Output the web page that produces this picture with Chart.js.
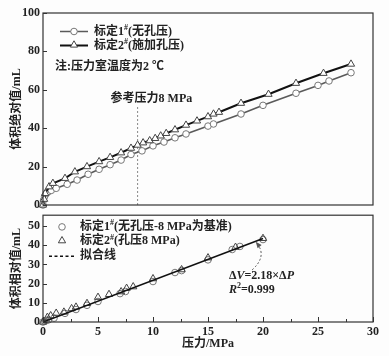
<!DOCTYPE html>
<html><head><meta charset="utf-8">
<script src="https://cdn.jsdelivr.net/npm/chart.js@4.4.0/dist/chart.umd.min.js"></script>
<style>
html,body{margin:0;padding:0;background:#fff;}
#wrap{position:relative;width:389px;height:356px;overflow:hidden;background:#fdfdfd;}
#cTop{position:absolute;left:0;top:0;}
#cBot{position:absolute;left:0;top:205px;}
</style></head><body>
<div id="wrap">
<canvas id="cTop" width="389" height="216"></canvas>
<canvas id="cBot" width="389" height="151"></canvas>
</div>
<script>
// ---------- data ----------
// top panel: absolute volume vs pressure
const p1 = [0, 0.05, 0.15, 0.3, 0.5, 0.75, 1.2, 2.2, 3.1, 4.1, 5.1, 6.1, 7.1, 8, 9, 10, 11, 12, 13, 15, 15.5, 18, 20, 23, 25, 26, 28];
const v1 = [0, 2.5, 4.5, 6.0, 7.0, 7.6, 8.7, 10.8, 13.0, 16.0, 18.6, 21.0, 23.4, 26.3, 28.2, 30.8, 32.8, 35.0, 37.0, 41.1, 42.2, 47.4, 51.9, 58.2, 62.3, 64.6, 68.9];
const p2 = [0, 0.1, 0.2, 0.55, 0.9, 2.0, 2.9, 4.0, 5.1, 6.1, 7.1, 8.0, 8.6, 9.1, 9.7, 10.2, 10.7, 11.2, 12, 13, 14, 15, 15.5, 16, 18, 20.5, 23, 25.5, 28];
const v2 = [0, 3, 6, 9.5, 11.3, 13.9, 17.3, 20, 22.6, 24.8, 27.2, 29.6, 31.2, 32.4, 33.5, 34.7, 36.0, 37.3, 39.2, 41.6, 43.8, 46.0, 47.4, 48.3, 53.0, 57.7, 63.4, 68.6, 73.4];
// bottom panel: relative volume vs pressure
const b1x = [0, 0.15, 0.3, 0.5, 1, 2, 3, 4, 5, 7, 7.5, 10, 12, 12.6, 15, 17.2, 17.9, 20];
const b1y = [0, 0.4, 0.8, 1.1, 2.0, 4.5, 6.5, 8.7, 10.7, 14.8, 15.9, 21.1, 25.8, 26.8, 32.4, 37.8, 39.4, 43.0];
const b2x = [0, 0.4, 0.7, 1.2, 1.9, 2.6, 3.0, 4.0, 5.0, 6.0, 7.1, 7.6, 8.2, 10.0, 12.6, 15.0, 17.5, 20.0];
const b2y = [0, 2.5, 3.3, 4.6, 5.2, 7.0, 7.8, 9.7, 12.9, 14.4, 15.8, 17.6, 18.4, 22.6, 27.3, 33.5, 39.0, 43.6];
const fitX = [0, 20];
const fitY = [0, 43.6];
// reference pressure line
const refPressure = 8.6;
const refLineTop = 51.5;
// tick labels
const xTicks = [0, 5, 10, 15, 20, 25, 30];
const xMinorTicks = [2.5, 7.5, 12.5, 17.5, 22.5, 27.5];
const yTopTicks = [0, 20, 40, 60, 80, 100];
const yBotTicks = [0, 10, 20, 30, 40, 50];
// texts
const seriesNames = ['标定1#(无孔压)', '标定2#(施加孔压)'];
const bottomNames = ['标定1#(无孔压-8 MPa为基准)', '标定2#(孔压8 MPa)', '拟合线'];
const noteText = '注:压力室温度为2 ℃';
const refLabel = '参考压力8 MPa';

// ---------- styling ----------
const FONT = "'Liberation Serif','Noto Sans CJK SC',serif";
const INK = '#222';
const FRAME = '#333';
const C1 = '#5a5a5a', C1M = '#777';
const C2 = '#111', C2M = '#444';
Chart.defaults.font.family = FONT;
Chart.defaults.font.weight = 'bold';
Chart.defaults.color = INK;

function fontStr(size, italic) { return (italic ? 'italic ' : '') + 'bold ' + size + 'px ' + FONT; }
function drawRich(ctx, x, y, parts, size) {
  ctx.save(); ctx.textBaseline = 'middle'; ctx.textAlign = 'left'; ctx.fillStyle = INK;
  let cx = x;
  for (const p of parts) {
    const s = typeof p === 'string' ? {t: p} : p;
    const fs = s.sup ? Math.round(size * 0.7) : size;
    ctx.font = fontStr(fs, s.it);
    ctx.fillText(s.t, cx, y + (s.sup ? -size * 0.3 : 0));
    cx += ctx.measureText(s.t).width;
  }
  ctx.restore();
  return cx;
}
function splitSharp(str) {
  // render "#" as superscript
  const out = [];
  str.split('#').forEach((seg, i) => { if (i > 0) out.push({t: '#', sup: true}); if (seg) out.push(seg); });
  return out;
}
function drawMarker(ctx, style, x, y, r, stroke) {
  ctx.save(); ctx.beginPath();
  if (style === 'circle') ctx.arc(x, y, r, 0, Math.PI * 2);
  else {
    let rad = 0; const T = Math.PI * 2 / 3;
    ctx.moveTo(x + Math.sin(rad) * r, y - Math.cos(rad) * r); rad += T;
    ctx.lineTo(x + Math.sin(rad) * r, y - Math.cos(rad) * r); rad += T;
    ctx.lineTo(x + Math.sin(rad) * r, y - Math.cos(rad) * r);
    ctx.closePath();
  }
  ctx.fillStyle = '#fff'; ctx.fill();
  ctx.lineWidth = 1; ctx.strokeStyle = stroke; ctx.stroke();
  ctx.restore();
}
function frameAndTicks(chart, opts) {
  const ctx = chart.ctx, ca = chart.chartArea, xs = chart.scales.x, ys = chart.scales.y;
  ctx.save();
  ctx.strokeStyle = FRAME; ctx.lineWidth = 1.2;
  ctx.strokeRect(ca.left, ca.top, ca.right - ca.left, ca.bottom - ca.top);
  ctx.lineWidth = 1;
  ctx.beginPath();
  (opts.yTicks || []).forEach(v => { const y = Math.round(ys.getPixelForValue(v)) + 0.5; ctx.moveTo(ca.left, y); ctx.lineTo(ca.left + 4, y); });
  if (opts.xAxis) {
    xTicks.forEach(v => { const x = Math.round(xs.getPixelForValue(v)) + 0.5; ctx.moveTo(x, ca.bottom); ctx.lineTo(x, ca.bottom - 5); });
    xMinorTicks.forEach(v => { const x = Math.round(xs.getPixelForValue(v)) + 0.5; ctx.moveTo(x, ca.bottom); ctx.lineTo(x, ca.bottom - 3); });
  }
  ctx.stroke();
  ctx.restore();
}
const pts = (xs, ys) => xs.map((x, i) => ({x, y: ys[i]}));

// ---------- top chart ----------
const topPlugin = {
  id: 'topDecor',
  afterDraw(chart) {
    const ctx = chart.ctx, ca = chart.chartArea, xs = chart.scales.x, ys = chart.scales.y;
    frameAndTicks(chart, {yTicks: yTopTicks});
    // legend
    const lx0 = ca.left + 17, lx1 = ca.left + 45, lm = (lx0 + lx1) / 2, tx = ca.left + 51;
    const r1 = ca.top + 18.5, r2 = ca.top + 32.5;
    ctx.save();
    ctx.lineWidth = 1.5; ctx.strokeStyle = C1;
    ctx.beginPath(); ctx.moveTo(lx0, r1); ctx.lineTo(lx1, r1); ctx.stroke();
    ctx.lineWidth = 2; ctx.strokeStyle = C2;
    ctx.beginPath(); ctx.moveTo(lx0, r2); ctx.lineTo(lx1, r2); ctx.stroke();
    ctx.restore();
    drawMarker(ctx, 'circle', lm, r1, 3.3, C1M);
    drawMarker(ctx, 'triangle', lm, r2 - 0.5, 4.2, C2M);
    drawRich(ctx, tx, r1, splitSharp(seriesNames[0]), 12);
    drawRich(ctx, tx, r2, splitSharp(seriesNames[1]), 12);
    drawRich(ctx, ca.left + 12, ca.top + 53.5, [noteText], 12);
    // reference label
    drawRich(ctx, xs.getPixelForValue(refPressure) - 27, ys.getPixelForValue(refLineTop) - 7, [refLabel], 12);
  }
};
new Chart(document.getElementById('cTop'), {
  type: 'line',
  data: {
    datasets: [
      {label: 'ref', data: pts([refPressure, refPressure], [0, refLineTop]), borderColor: '#888', borderWidth: 1, borderDash: [2, 2], pointRadius: 0, order: 10},
      {label: seriesNames[1], data: pts(p2, v2), borderColor: C2, borderWidth: 2, pointStyle: 'triangle', pointRadius: 4.2, pointBorderWidth: 1, pointBorderColor: C2M, pointBackgroundColor: '#fff', clip: false, order: 1},
      {label: seriesNames[0], data: pts(p1, v1), borderColor: C1, borderWidth: 1.6, pointStyle: 'circle', pointRadius: 3.3, pointBorderWidth: 1, pointBorderColor: C1M, pointBackgroundColor: '#fff', clip: false, order: 2}
    ]
  },
  options: {
    responsive: false, animation: false, events: [],
    layout: {padding: {left: 0, right: 16, top: 13, bottom: 11}},
    plugins: {legend: {display: false}, tooltip: {enabled: false}},
    scales: {
      x: {type: 'linear', min: 0, max: 30, display: false},
      y: {type: 'linear', min: 0, max: 100,
          afterBuildTicks: s => { s.ticks = yTopTicks.map(v => ({value: v})); },
          afterFit: s => { s.width = 43; },
          grid: {display: false, drawTicks: false}, border: {display: false},
          ticks: {padding: 3, font: {size: 12, weight: 'bold'}, color: INK},
          title: {display: true, text: '体积绝对值/mL', font: {size: 12, weight: 'bold'}, color: INK, padding: {top: 10, bottom: 0}}}
    }
  },
  plugins: [topPlugin]
});

// ---------- bottom chart ----------
const annX = 16.9, annY1 = 24.3, annY2 = 16.7;
const arrowTail = [19.0, 27.1], arrowCtrl = [20.4, 34.3], arrowHead = [19.45, 41.0];
const botPlugin = {
  id: 'botDecor',
  afterDraw(chart) {
    const ctx = chart.ctx, ca = chart.chartArea, xs = chart.scales.x, ys = chart.scales.y;
    frameAndTicks(chart, {yTicks: yBotTicks, xAxis: true});
    // legend
    const mx = ca.left + 19, tx = ca.left + 37;
    const r1 = ca.top + 11.7, r2 = ca.top + 26, r3 = ca.top + 41;
    drawMarker(ctx, 'circle', mx, r1, 3.3, C1M);
    drawMarker(ctx, 'triangle', mx, r2 - 0.5, 4.2, C2M);
    ctx.save();
    ctx.strokeStyle = '#111'; ctx.lineWidth = 1.6; ctx.setLineDash([3, 2.5]);
    ctx.beginPath(); ctx.moveTo(ca.left + 6, r3); ctx.lineTo(ca.left + 33, r3); ctx.stroke();
    ctx.restore();
    drawRich(ctx, tx, r1, splitSharp(bottomNames[0]), 12);
    drawRich(ctx, tx, r2, splitSharp(bottomNames[1]), 12);
    drawRich(ctx, tx, r3, [bottomNames[2]], 12);
    // annotation
    const ax = xs.getPixelForValue(annX);
    drawRich(ctx, ax, ys.getPixelForValue(annY1), ['Δ', {t: 'V', it: true}, '=2.18×Δ', {t: 'P', it: true}], 12);
    drawRich(ctx, ax, ys.getPixelForValue(annY2), [{t: 'R', it: true}, {t: '2', sup: true}, '=0.999'], 12);
    // curved dashed arrow
    const P = a => [xs.getPixelForValue(a[0]), ys.getPixelForValue(a[1])];
    const t = P(arrowTail), c = P(arrowCtrl), h = P(arrowHead);
    ctx.save();
    ctx.strokeStyle = '#555'; ctx.lineWidth = 1; ctx.setLineDash([2, 2]);
    ctx.beginPath(); ctx.moveTo(t[0], t[1]); ctx.quadraticCurveTo(c[0], c[1], h[0], h[1]); ctx.stroke();
    ctx.setLineDash([]);
    const ang = Math.atan2(h[1] - c[1], h[0] - c[0]);
    ctx.fillStyle = '#555'; ctx.beginPath();
    ctx.moveTo(h[0] + Math.cos(ang) * 2, h[1] + Math.sin(ang) * 2);
    ctx.lineTo(h[0] + Math.cos(ang + 2.6) * 5, h[1] + Math.sin(ang + 2.6) * 5);
    ctx.lineTo(h[0] + Math.cos(ang - 2.6) * 5, h[1] + Math.sin(ang - 2.6) * 5);
    ctx.closePath(); ctx.fill();
    ctx.restore();
  }
};
new Chart(document.getElementById('cBot'), {
  type: 'line',
  data: {
    datasets: [
      {label: bottomNames[2], data: pts(fitX, fitY), borderColor: '#111', borderWidth: 1.6, pointRadius: 0, order: 1},
      {label: bottomNames[1], data: pts(b2x, b2y), showLine: false, pointStyle: 'triangle', pointRadius: 4.2, pointBorderWidth: 1, pointBorderColor: C2M, pointBackgroundColor: 'rgba(255,255,255,0)', clip: false, order: 2},
      {label: bottomNames[0], data: pts(b1x, b1y), showLine: false, pointStyle: 'circle', pointRadius: 3.3, pointBorderWidth: 1, pointBorderColor: C1M, pointBackgroundColor: 'rgba(255,255,255,0)', clip: false, order: 3}
    ]
  },
  options: {
    responsive: false, animation: false, events: [],
    layout: {padding: {left: 0, right: 16, top: 0, bottom: 0}},
    plugins: {legend: {display: false}, tooltip: {enabled: false}},
    scales: {
      x: {type: 'linear', min: 0, max: 30,
          afterBuildTicks: s => { s.ticks = xTicks.map(v => ({value: v})); },
          afterFit: s => { s.height = 34; },
          grid: {display: false, drawTicks: false}, border: {display: false},
          ticks: {padding: 3, maxRotation: 0, font: {size: 12, weight: 'bold'}, color: INK},
          title: {display: true, text: '压力/MPa', font: {size: 12, weight: 'bold'}, color: INK, padding: {top: 0, bottom: 5}}},
      y: {type: 'linear', min: 0, max: 55.7,
          afterBuildTicks: s => { s.ticks = yBotTicks.map(v => ({value: v})); },
          afterFit: s => { s.width = 43; },
          grid: {display: false, drawTicks: false}, border: {display: false},
          ticks: {padding: 3, font: {size: 12, weight: 'bold'}, color: INK},
          title: {display: true, text: '体积相对值/mL', font: {size: 12, weight: 'bold'}, color: INK, padding: {top: 10, bottom: 0}}}
    }
  },
  plugins: [botPlugin]
});
</script>
</body></html>
